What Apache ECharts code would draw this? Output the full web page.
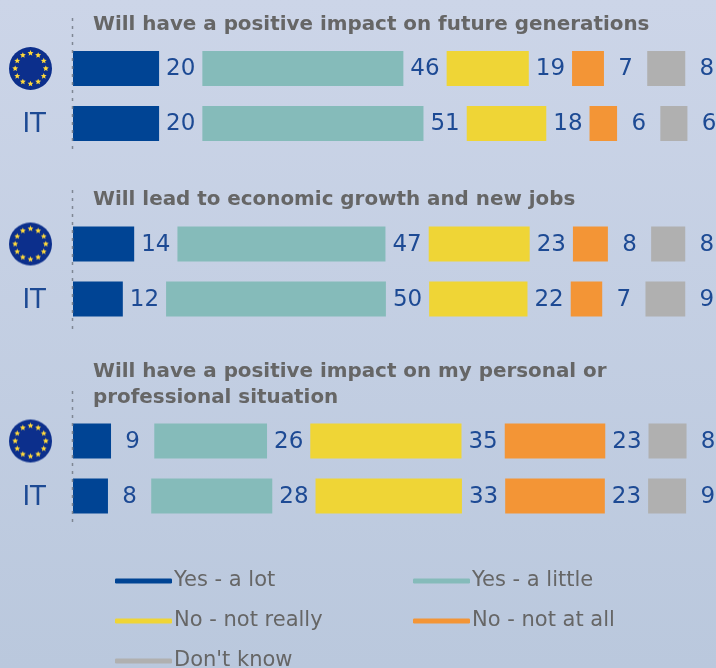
<!DOCTYPE html>
<html>
<head>
<meta charset="utf-8">
<style>html,body{margin:0;padding:0}#chart{width:716px;height:668px}</style>
<script src="https://cdn.jsdelivr.net/npm/echarts@6/dist/echarts.min.js"></script>
</head>
<body>
<div id="chart"></div>
<script>
var responses = ['Yes - a lot', 'Yes - a little', 'No - not really', 'No - not at all', "Don't know"];
var colors = ['#004494', '#85bbba', '#efd536', '#f39536', '#b0b0b0'];
var countries = ['EU', 'IT'];
var questions = [
  'Will have a positive impact on future generations',
  'Will lead to economic growth and new jobs',
  'Will have a positive impact on my personal or\nprofessional situation'
];

// printed numbers, per question, [EU, IT]
var yesLotShown = [[20, 20], [14, 12], [9, 8]];
var yesLittleShown = [[46, 51], [47, 50], [26, 28]];
var noReallyShown = [[19, 18], [23, 22], [35, 33]];
var noAtAllShown = [[7, 6], [8, 7], [23, 23]];
var dontKnowShown = [[8, 6], [8, 9], [8, 9]];

// bar lengths (the printed numbers are rounded)
var yesLot = [[19.7, 19.7], [14.0, 11.4], [8.7, 8.0]];
var yesLittle = [[46.0, 50.6], [47.6, 50.3], [25.8, 27.7]];
var noReally = [[18.8, 18.2], [23.1, 22.5], [34.6, 33.5]];
var noAtAll = [[7.3, 6.3], [8.0, 7.2], [23.0, 22.8]];
var dontKnow = [[8.7, 6.2], [7.8, 9.1], [8.7, 8.7]];

var lengths = [yesLot, yesLittle, noReally, noAtAll, dontKnow];
var shown = [yesLotShown, yesLittleShown, noReallyShown, noAtAllShown, dontKnowShown];

var FONT = '"DejaVu Sans", sans-serif';
var gapUnits = 9.9;              // empty room after each bar, holds the number
var gridTops = [41, 216.5, 413.5];
var titleTops = [12, 187, 359];
var dotted = [[18, 153], [190, 330], [391, 527]];

// eu flag for the axis label
function makeFlag() {
  var c = document.createElement('canvas');
  c.width = 43; c.height = 43;
  var ctx = c.getContext('2d');
  ctx.fillStyle = '#0c2f8c';
  ctx.beginPath(); ctx.arc(21.5, 21.5, 21.5, 0, Math.PI * 2); ctx.fill();
  ctx.fillStyle = '#ffd93b';
  for (var i = 0; i < 12; i++) {
    var a = i * Math.PI / 6;
    var cx = 21.5 + 15.3 * Math.cos(a), cy = 21.5 + 15.3 * Math.sin(a);
    ctx.beginPath();
    for (var k = 0; k < 10; k++) {
      var r = k % 2 ? 1.4 : 3.1;
      var b = -Math.PI / 2 + k * Math.PI / 5;
      ctx.lineTo(cx + r * Math.cos(b), cy + r * Math.sin(b));
    }
    ctx.closePath(); ctx.fill();
  }
  return c;
}
var flag = makeFlag();

var grids = [], xAxes = [], yAxes = [], series = [], titles = [], lines = [];

questions.forEach(function (q, g) {
  grids.push({left: 73, top: gridTops[g], right: 0, height: 110});
  xAxes.push({type: 'value', gridIndex: g, min: 0, max: 147.14, show: false});
  yAxes.push({
    type: 'category', gridIndex: g, inverse: true, data: countries,
    axisLine: {show: false}, axisTick: {show: false},
    axisLabel: {
      margin: 21,
      formatter: function (v) { return v === 'EU' ? '{flag|}' : '{it|' + v + '}'; },
      rich: {
        flag: {backgroundColor: {image: flag}, width: 43, height: 43},
        it: {fontFamily: FONT, fontSize: 26, color: '#1d4a94', padding: [4, 6, 0, 0]}
      }
    }
  });
  titles.push({
    text: q, left: 93, top: titleTops[g], padding: 0,
    textStyle: {fontFamily: FONT, fontWeight: 'bold', fontSize: 19.9, lineHeight: 26, color: '#666666'}
  });
  lines.push({
    type: 'line', silent: true,
    shape: {x1: 72.5, y1: dotted[g][0], x2: 72.5, y2: dotted[g][1]},
    style: {stroke: '#7f8794', lineWidth: 1.5, lineDash: [3, 5]},
    z: 10
  });
  responses.forEach(function (name, r) {
    series.push({
      type: 'bar', name: name, stack: 'q' + g, xAxisIndex: g, yAxisIndex: g, clip: false,
      barWidth: 35, data: lengths[r][g], itemStyle: {color: colors[r]}
    });
    series.push({
      type: 'bar', stack: 'q' + g, xAxisIndex: g, yAxisIndex: g, silent: true, clip: false,
      barWidth: 35, data: [gapUnits, gapUnits], itemStyle: {color: 'transparent'},
      label: {
        show: true, position: 'inside', offset: [0, 1], fontFamily: FONT, fontSize: 23, color: '#1d4a94',
        formatter: function (p) { return shown[r][g][p.dataIndex]; }
      }
    });
  });
});

// one legend per entry, the column layout of the picture does not wrap by itself
function legendAt(left, top, name) {
  return {
    left: left, top: top, padding: 0, icon: 'roundRect', selectedMode: false,
    itemWidth: 57, itemHeight: 5, data: [name],
    textStyle: {fontFamily: FONT, fontSize: 21, color: '#666666', padding: [0, 0, 0, -3]}
  };
}

var myChart = echarts.init(document.getElementById('chart'));
myChart.setOption({
  animation: false,
  backgroundColor: new echarts.graphic.LinearGradient(0, 0, 0, 1, [
    {offset: 0, color: '#ccd5e8'},
    {offset: 1, color: '#bac8dd'}
  ]),
  title: titles,
  grid: grids,
  xAxis: xAxes,
  yAxis: yAxes,
  legend: [
    legendAt(115, 570.5, responses[0]),
    legendAt(413, 570.5, responses[1]),
    legendAt(115, 610.5, responses[2]),
    legendAt(413, 610.5, responses[3]),
    legendAt(115, 650.5, responses[4])
  ],
  graphic: lines,
  series: series
});
</script>
</body>
</html>
